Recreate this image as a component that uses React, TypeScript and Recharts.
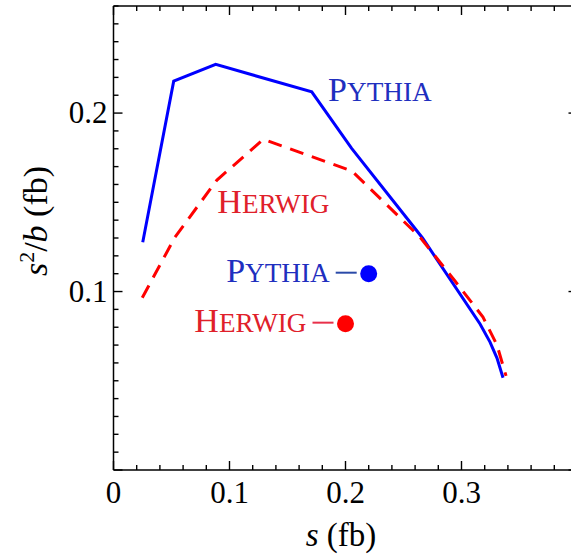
import React from "react";
import {
  ComposedChart,
  Line,
  Scatter,
  XAxis,
  YAxis,
  ReferenceDot,
} from "recharts";

const FONT = "Liberation Serif";

// Pythia curve (s, s^2/b)
const pythiaS = [0.0252, 0.0519, 0.0881, 0.1709, 0.2053, 0.2664, 0.316, 0.3246, 0.3306, 0.3358];
const pythiaR = [0.1276, 0.2179, 0.2273, 0.2119, 0.1802, 0.13, 0.0818, 0.0717, 0.0627, 0.0517];

// Herwig curve
const herwigS = [0.0248, 0.053, 0.0892, 0.1291, 0.2056, 0.2642, 0.2944, 0.3185, 0.3306, 0.3384];
const herwigR = [0.0965, 0.1305, 0.1625, 0.1853, 0.1675, 0.1305, 0.1059, 0.0857, 0.07, 0.0527];

// single points
const pointNames = ["Pythia", "Herwig"];
const pointS = [0.22, 0.2];
const pointR = [0.11, 0.082];

// curve labels (text start, baseline)
const curveLabels = [
  { name: "Pythia", s: 0.185, r: 0.207, color: "#1f2fbf" },
  { name: "Herwig", s: 0.0895, r: 0.1438, color: "#e0202a" },
];

const xTicks = [0, 0.02, 0.04, 0.06, 0.08, 0.1, 0.12, 0.14, 0.16, 0.18, 0.2, 0.22, 0.24, 0.26, 0.28, 0.3, 0.32, 0.34, 0.36, 0.38, 0.4];
const yTicks = [0, 0.01, 0.02, 0.03, 0.04, 0.05, 0.06, 0.07, 0.08, 0.09, 0.1, 0.11, 0.12, 0.13, 0.14, 0.15, 0.16, 0.17, 0.18, 0.19, 0.2, 0.21, 0.22, 0.23, 0.24, 0.25, 0.26];
const xLabels = [0, 0.1, 0.2, 0.3];
const yLabels = [0.1, 0.2];

const pythia = pythiaS.map((x, i) => ({ x, y: pythiaR[i] }));
const herwig = herwigS.map((x, i) => ({ x, y: herwigR[i] }));
const points = pointNames.map((name, i) => ({ name, x: pointS[i], y: pointR[i] }));

const isMajor = (v: number) => Math.abs(v * 10 - Math.round(v * 10)) < 1e-6;
const has = (arr: number[], v: number) => arr.some((a) => Math.abs(a - v) < 1e-9);

const tickLen = (v: number) => (isMajor(v) ? 9 : 5);

function SmallCaps({ text, size }: { text: string; size: number }) {
  return (
    <>
      <tspan fontSize={size}>{text[0].toUpperCase()}</tspan>
      <tspan fontSize={size * 0.8}>{text.slice(1).toUpperCase()}</tspan>
    </>
  );
}

const BottomTick = (p: any) => (
  <g>
    <line x1={p.x} x2={p.x} y1={p.y} y2={p.y - tickLen(p.payload.value)} stroke="black" strokeWidth={1.4} />
    {has(xLabels, p.payload.value) && (
      <text x={p.x} y={p.y + 33} textAnchor="middle" fontSize={31} style={{ fontFamily: FONT }} fill="black">
        {String(p.payload.value)}
      </text>
    )}
  </g>
);

const TopTick = (p: any) => (
  <g>
    <line x1={p.x} x2={p.x} y1={p.y} y2={p.y + tickLen(p.payload.value)} stroke="black" strokeWidth={1.4} />
  </g>
);

const LeftTick = (p: any) => (
  <g>
    <line x1={p.x} x2={p.x + tickLen(p.payload.value)} y1={p.y} y2={p.y} stroke="black" strokeWidth={1.4} />
    {has(yLabels, p.payload.value) && (
      <text x={p.x - 6} y={p.y + 10} textAnchor="end" fontSize={31} style={{ fontFamily: FONT }} fill="black">
        {String(p.payload.value)}
      </text>
    )}
  </g>
);

const RightTick = (p: any) => (
  <g>
    <line x1={p.x} x2={p.x - tickLen(p.payload.value)} y1={p.y} y2={p.y} stroke="black" strokeWidth={1.4} />
  </g>
);

const PointShape = (p: any) => {
  const { cx, cy, payload } = p;
  const blue = payload.name === "Pythia";
  return (
    <g>
      <line x1={cx - 33} x2={cx - 12} y1={cy - 1} y2={cy - 1} stroke={blue ? "#2a4aa8" : "#e8304a"} strokeWidth={2} />
      <text x={cx - 39} y={cy + 8} textAnchor="end" style={{ fontFamily: FONT }} fill={blue ? "#1f2fbf" : "#e0202a"}>
        <SmallCaps text={payload.name} size={34} />
      </text>
      <circle cx={cx} cy={cy} r={8.5} fill={blue ? "#0000ff" : "#ff0000"} />
    </g>
  );
};

const frame = { stroke: "black", strokeWidth: 1.5 };

export default function App() {
  return (
    <div
      style={{
        position: "absolute",
        left: 0,
        top: 0,
        width: 571,
        height: 556,
        overflow: "hidden",
        background: "#fff",
      }}
    >
      <ComposedChart width={600} height={556} margin={{ top: 5, right: 21.5, bottom: 0, left: 0 }}>
        <XAxis
          xAxisId="b"
          type="number"
          dataKey="x"
          domain={[0, 0.4]}
          ticks={xTicks}
          interval={0}
          height={86}
          tickSize={0}
          tickMargin={0}
          tickLine={false}
          axisLine={frame}
          tick={BottomTick}
          label={(props: any) => (
            <text x={341} y={props.viewBox.y + 75.6} textAnchor="middle" fontSize={33} style={{ fontFamily: FONT }} fill="black">
              <tspan fontStyle="italic">s</tspan>
              <tspan> (fb)</tspan>
            </text>
          )}
        />
        <XAxis
          xAxisId="t"
          orientation="top"
          type="number"
          dataKey="x"
          domain={[0, 0.4]}
          ticks={xTicks}
          interval={0}
          height={1}
          tickSize={0}
          tickMargin={0}
          tickLine={false}
          axisLine={frame}
          tick={TopTick}
        />
        <YAxis
          yAxisId="l"
          type="number"
          dataKey="y"
          domain={[0, 0.26]}
          ticks={yTicks}
          interval={0}
          width={113.5}
          tickSize={0}
          tickMargin={0}
          tickLine={false}
          axisLine={frame}
          tick={LeftTick}
          label={(props: any) => {
            const vb = props.viewBox;
            const cx = 47;
            const cy = vb.y + vb.height / 2 - 17;
            return (
              <text
                x={cx}
                y={cy}
                transform={`rotate(-90, ${cx}, ${cy})`}
                textAnchor="middle"
                fontSize={34}
                style={{ fontFamily: FONT }}
                fill="black"
              >
                <tspan fontStyle="italic">s</tspan>
                <tspan fontSize={22} dy={-13}>2</tspan>
                <tspan dy={13}>/</tspan>
                <tspan fontStyle="italic">b</tspan>
                <tspan> (fb)</tspan>
              </text>
            );
          }}
        />
        <YAxis
          yAxisId="r"
          orientation="right"
          type="number"
          dataKey="y"
          domain={[0, 0.26]}
          ticks={yTicks}
          interval={0}
          width={1}
          tickSize={0}
          tickMargin={0}
          tickLine={false}
          axisLine={frame}
          tick={RightTick}
        />
        {/* invisible series so the mirrored frame axes get a domain */}
        <Line xAxisId="t" yAxisId="r" data={pythia} dataKey="y" stroke="none" dot={false} activeDot={false} isAnimationActive={false} />
        <Line
          xAxisId="b"
          yAxisId="l"
          data={pythia}
          dataKey="y"
          type="linear"
          stroke="#0000ff"
          strokeWidth={3}
          dot={false}
          activeDot={false}
          isAnimationActive={false}
        />
        <Line
          xAxisId="b"
          yAxisId="l"
          data={herwig}
          dataKey="y"
          type="linear"
          stroke="#ff0000"
          strokeWidth={3}
          strokeDasharray="14 9"
          dot={false}
          activeDot={false}
          isAnimationActive={false}
        />
        <Scatter xAxisId="b" yAxisId="l" data={points} dataKey="y" shape={PointShape} isAnimationActive={false} />
        {curveLabels.map((c) => (
          <ReferenceDot
            key={c.name}
            xAxisId="b"
            yAxisId="l"
            x={c.s}
            y={c.r}
            r={0}
            shape={(p: any) => (
              <text x={p.cx} y={p.cy} style={{ fontFamily: FONT }} fill={c.color}>
                <SmallCaps text={c.name} size={34} />
              </text>
            )}
          />
        ))}
      </ComposedChart>
    </div>
  );
}
